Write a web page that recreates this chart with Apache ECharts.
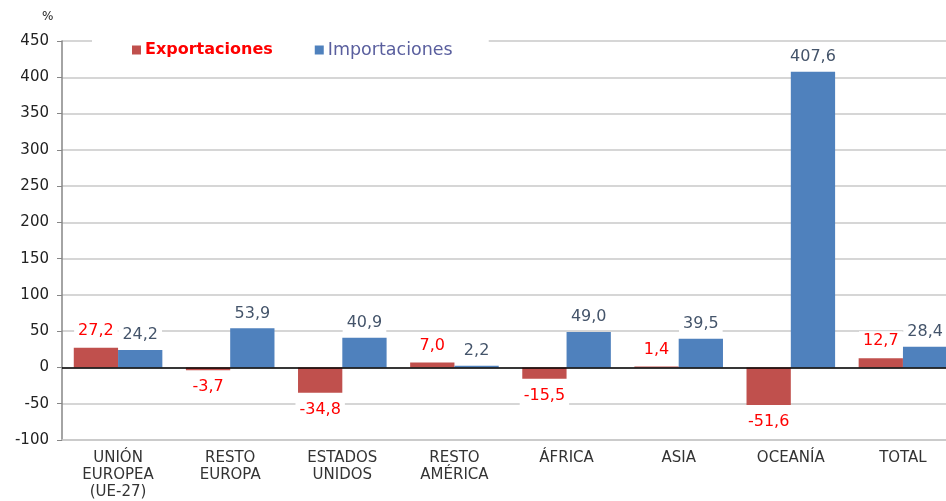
<!DOCTYPE html>
<html>
<head>
<meta charset="utf-8">
<script src="https://cdn.jsdelivr.net/npm/echarts@6/dist/echarts.min.js"></script>
<style>html,body{margin:0;padding:0;background:#fff}#c{width:946px;height:501px}</style>
</head>
<body>
<div id="c"></div>
<script>
const categories = ['UNIÓN\nEUROPEA\n(UE-27)', 'RESTO\nEUROPA', 'ESTADOS\nUNIDOS', 'RESTO\nAMÉRICA', 'ÁFRICA', 'ASIA', 'OCEANÍA', 'TOTAL'];
const exportaciones = [27.2, -3.7, -34.8, 7.0, -15.5, 1.4, -51.6, 12.7];
const importaciones = [24.2, 53.9, 40.9, 2.2, 49.0, 39.5, 407.6, 28.4];
const yTicks = { min: -100, max: 450, interval: 50 };

const fmt = v => v.toFixed(1).replace('.', ',');
const font = 'DejaVu Sans, sans-serif';

const chart = echarts.init(document.getElementById('c'));
chart.setOption({
  animation: false,
  textStyle: { fontFamily: font },
  graphic: [{ type: 'text', left: 42, top: 11, style: { text: '%', font: '12px ' + font, fill: '#222' } }],
  legend: {
    left: 92, top: 35,
    padding: [6, 36, 6, 40],
    backgroundColor: '#fff',
    itemWidth: 9, itemHeight: 9, itemGap: 42,
    icon: 'rect',
    textStyle: { fontSize: 17, fontFamily: font, padding: [0, 0, 0, -1] },
    data: [
      { name: 'Exportaciones', textStyle: { color: '#ff0000', fontWeight: 'bold', fontSize: 16 } },
      { name: 'Importaciones', textStyle: { color: '#5a5f9e', fontSize: 17.5 } }
    ]
  },
  grid: { left: 62, width: 897, top: 41, bottom: 61, containLabel: false, outerBoundsMode: 'none' },
  xAxis: {
    type: 'category',
    data: categories,
    axisLine: { onZero: false, lineStyle: { color: '#c8c8c8', width: 1.5 } },
    axisTick: { show: false },
    axisLabel: { color: '#333', fontSize: 15, lineHeight: 17, margin: 10, interval: 0, fontFamily: font }
  },
  yAxis: {
    type: 'value',
    min: yTicks.min, max: yTicks.max, interval: yTicks.interval,
    axisLine: { show: true, lineStyle: { color: '#868686', width: 1.5 } },
    axisTick: { show: true, length: 5, lineStyle: { color: '#868686' } },
    axisLabel: { color: '#222', fontSize: 15, margin: 13, fontFamily: font },
    splitLine: { lineStyle: { color: '#c8c8c8', width: 1.5 } }
  },
  series: [
    {
      name: 'Exportaciones', type: 'bar',
      data: exportaciones.map(v => v < 0 ? { value: v, label: { position: 'bottom' } } : v),
      barGap: '0%', barCategoryGap: '21%',
      itemStyle: { color: '#c0504d' },
      label: {
        show: true, position: 'top', distance: 7,
        color: '#ff0000', fontSize: 16, fontFamily: font,
        backgroundColor: '#fff', padding: [2, 4],
        formatter: p => fmt(p.value)
      },
      markLine: {
        silent: true, symbol: 'none', label: { show: false },
        lineStyle: { color: '#000', width: 1.5, type: 'solid' },
        data: [{ yAxis: 0 }], z: 5
      }
    },
    {
      name: 'Importaciones', type: 'bar', data: importaciones,
      barGap: '0%', barCategoryGap: '21%',
      itemStyle: { color: '#4f81bd' },
      label: {
        show: true, position: 'top', distance: 5,
        color: '#44546a', fontSize: 16, fontFamily: font,
        backgroundColor: '#fff', padding: [2, 4],
        formatter: p => fmt(p.value)
      }
    }
  ]
});
</script>
</body>
</html>
